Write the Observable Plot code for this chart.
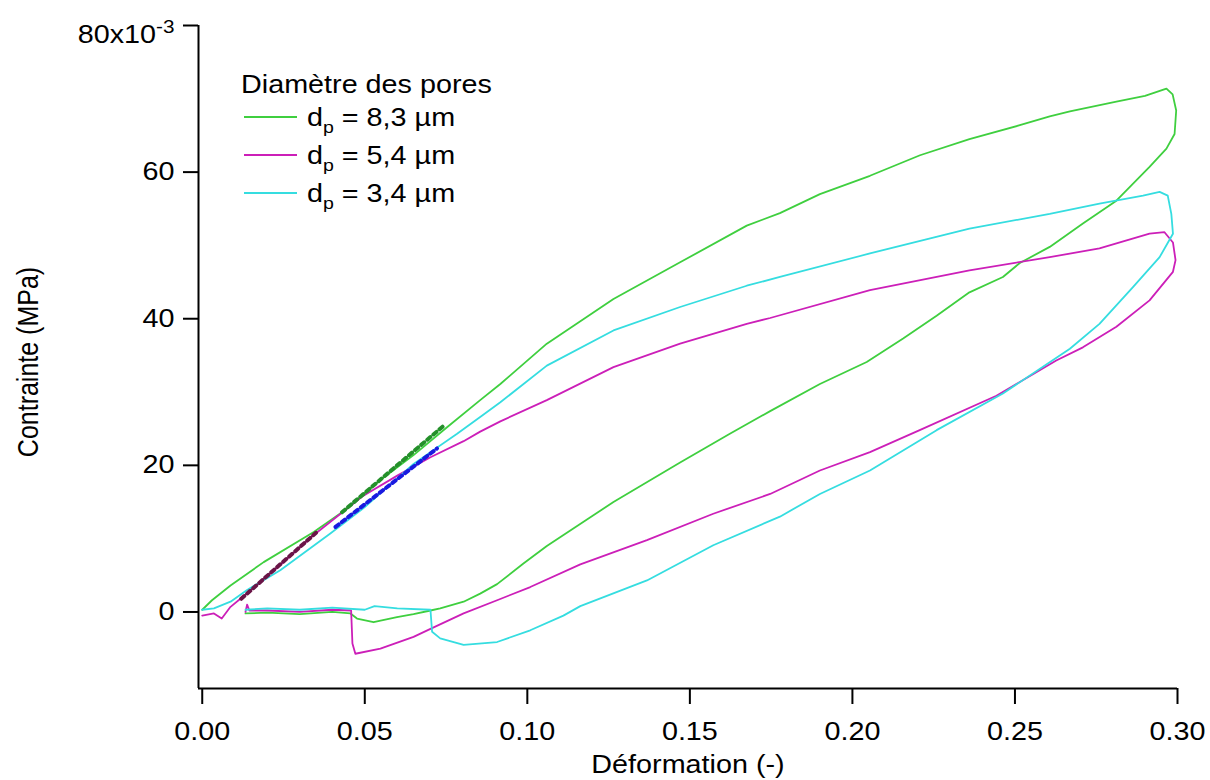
<!DOCTYPE html>
<html><head><meta charset="utf-8">
<script src="https://cdn.jsdelivr.net/npm/d3@7"></script>
<script src="https://cdn.jsdelivr.net/npm/@observablehq/plot@0.6"></script>
<style>body{margin:0;background:#fff}#chart{width:1210px;height:780px}</style>
</head><body><div id="chart"></div>
<script>
const seriesLabels = ["8,3 µm", "5,4 µm", "3,4 µm"];
const seriesColors = ["#3fcf3f", "#cc1fb8", "#35dde0"];

const greenStrain = [0.000,0.003,0.0087,0.0189,0.0343,0.0446,0.0548,0.065,0.0753,0.0855,
  0.0917,0.106,0.1265,0.147,0.1675,0.1777,0.19,0.2054,0.2208,0.236,
  0.2515,0.2607,0.2669,0.2812,0.2900,0.2966,
  0.2985,0.2996,0.2991,0.2966,0.2914,0.2812,0.2709,0.2607,0.2515,0.2463,
  0.236,0.2259,0.2156,0.2044,0.19,0.1747,0.1623,0.147,0.1265,0.106,
  0.0988,0.0907,0.0855,0.0804,0.0732,0.0702,0.0650,0.0599,0.0527,0.0476,
  0.0456,0.040,0.030,0.020,0.0133];
const greenStress = [0.3,1.6,3.6,6.8,10.9,14.1,18.0,21.4,25.2,28.9,
  31.1,36.6,42.7,47.7,52.7,54.4,57.0,59.5,62.3,64.5,
  66.4,67.6,68.3,69.6,70.4,71.4,
  70.6,68.4,65.2,63.2,60.7,56.1,53.0,49.8,47.6,45.7,
  43.6,40.4,37.3,34.1,31.1,27.4,24.3,20.4,15.0,9.0,
  6.6,3.8,2.5,1.4,0.5,0.2,-0.3,-0.7,-1.4,-0.9,
  -0.2,0.0,-0.3,-0.1,-0.2];

const magentaStrain = [0.000,0.0036,0.006,0.0087,0.0123,0.024,0.0343,0.0497,0.060,0.0702,
  0.0804,0.0855,0.0917,0.106,0.1265,0.147,0.1675,0.1747,0.2054,0.236,
  0.2607,0.276,0.2914,0.296,
  0.2986,0.2994,0.2986,0.2914,0.2812,0.2709,
  0.2627,0.2443,0.2207,0.2054,0.190,0.1747,0.1572,0.1368,0.1163,0.1009,
  0.0907,0.0804,0.0702,0.065,0.0548,0.0471,0.0462,0.0458,0.040,0.030,
  0.020,0.0145,0.0138,0.0133];
const magentaStress = [-0.5,-0.2,-0.9,0.7,2.0,6.4,10.5,15.9,18.6,21.1,
  23.3,24.6,26.0,28.9,33.4,36.6,39.3,40.1,43.9,46.6,
  48.4,49.6,51.6,51.8,
  50.4,48.0,46.4,42.5,38.9,36.1,
  34.3,29.5,24.8,21.8,19.3,16.1,13.4,9.8,6.5,3.4,
  1.6,-0.2,-2.3,-3.4,-5.0,-5.7,-4.3,0.2,0.3,0.0,
  0.2,0.2,1.0,0.0];

const cyanStrain = [0.000,0.0036,0.0087,0.0138,0.024,0.0394,0.050,0.065,0.0784,0.0855,
  0.0917,0.106,0.1265,0.147,0.1675,0.1777,0.2054,0.236,0.2607,0.276,
  0.2894,0.2945,
  0.297,0.2981,0.2986,0.2945,0.2863,0.276,0.2669,0.2463,
  0.2259,0.2054,0.190,0.1777,0.1572,0.1368,0.1163,0.1111,0.1009,0.0907,
  0.0804,0.0732,0.0707,0.0702,0.060,0.053,0.050,0.040,0.030,0.020,
  0.0133];
const cyanStress = [0.3,0.5,1.4,3.0,5.7,10.7,14.3,20.2,24.3,26.6,
  28.6,33.6,38.4,41.6,44.5,45.7,48.9,52.3,54.3,55.7,
  56.8,57.3,
  56.8,54.3,51.6,48.4,44.3,39.3,35.9,29.8,
  24.8,19.3,16.1,13.0,9.1,4.3,0.8,-0.5,-2.5,-4.1,
  -4.5,-3.6,-2.7,0.3,0.5,0.8,0.3,0.6,0.3,0.5,
  0.3];

// linear fits (dashed) on the initial loading slopes
const fitNames = ["fit 5,4", "fit 8,3", "fit 3,4"];
const fitColors = ["#6a1447", "#24902a", "#1a1ae0"];
const fitStrain = [[0.012, 0.035], [0.043, 0.074], [0.041, 0.0722]];
const fitStress = [[1.8, 10.8], [13.6, 25.3], [11.6, 22.3]];

const xTicks = [0, 0.05, 0.10, 0.15, 0.20, 0.25, 0.30];
const yTicks = [0, 20, 40, 60, 80];
const xDomain = [-0.00115, 0.30];
const yDomain = [-10.44, 80];

// ---- build rows ----
function rowsOf(sx, sy) { return sx.map((x, i) => ({strain: x, stress: sy[i]})); }
const curves = [rowsOf(greenStrain, greenStress), rowsOf(magentaStrain, magentaStress), rowsOf(cyanStrain, cyanStress)];
const fits = fitStrain.map((s, k) => rowsOf(s, fitStress[k]));

const FONT = "'Liberation Sans', Arial, sans-serif";
const plot = Plot.plot({
  width: 1210, height: 780,
  marginLeft: 198, marginRight: 33, marginTop: 25, marginBottom: 92,
  style: {fontFamily: FONT, fontSize: "25px", background: "#fff", color: "#000", overflow: "visible"},
  x: {domain: xDomain},
  y: {domain: yDomain},
  marks: [
    ...curves.map((c, k) => Plot.line(c, {x: "strain", y: "stress", stroke: seriesColors[k], strokeWidth: 1.8})),
    ...fits.map((f, k) => Plot.line(f, {x: "strain", y: "stress", stroke: fitColors[k], strokeWidth: 4, strokeDasharray: "4,4"})),
    Plot.ruleX([xDomain[0]], {y1: yDomain[0], y2: yDomain[1], stroke: "#000", strokeWidth: 2}),
    Plot.ruleY([yDomain[0]], {x1: xDomain[0], x2: xDomain[1], stroke: "#000", strokeWidth: 2}),
    Plot.axisX({ticks: xTicks, tickSize: 16, tickPadding: 18, strokeWidth: 2, tickFormat: d => d.toFixed(2), label: null}),
    Plot.axisY({ticks: yTicks, tickSize: 15, tickPadding: 9, strokeWidth: 2, tickFormat: d => d === 80 ? "80x10" : String(d), label: null})
  ]
});
document.getElementById("chart").appendChild(plot);

const svg = d3.select(plot);
// horizontally widen tick labels a bit (reference type is wide)
svg.selectAll('g[aria-label="x-axis tick label"] text, g[aria-label="y-axis tick label"] text').each(function() {
  const t = this.getAttribute("transform");
  if (t) this.setAttribute("transform", t + " scale(1.15,1)");
  if (this.textContent === "80x10") {
    this.setAttribute("transform", (this.getAttribute("transform") || "") + " translate(0,9)");
    d3.select(this).append("tspan").attr("dy", -10).attr("font-size", 18).text("-3");
  }
});

// axis titles
svg.append("text").attr("transform", "translate(688,773) scale(1.15,1)")
  .attr("text-anchor", "middle").attr("font-size", 25).text("Déformation (-)");
svg.append("text").attr("transform", "translate(38,362) rotate(-90) scale(1,1.15)")
  .attr("text-anchor", "middle").attr("font-size", 25).text("Contrainte (MPa)");

// legend
const lg = svg.append("g").attr("font-size", 25).attr("text-anchor", "start");
lg.append("text").attr("text-anchor", "start").attr("transform", "translate(241,93) scale(1.15,1)").text("Diamètre des pores");
seriesLabels.forEach((lab, k) => {
  const y = 117 + k * 38;
  lg.append("line").attr("x1", 244).attr("x2", 297).attr("y1", y).attr("y2", y)
    .attr("stroke", seriesColors[k]).attr("stroke-width", 1.8);
  const t = lg.append("text").attr("text-anchor", "start").attr("transform", `translate(307,${y + 9}) scale(1.15,1)`);
  t.append("tspan").text("d");
  t.append("tspan").attr("dy", 7).attr("font-size", 17).text("p");
  t.append("tspan").attr("dy", -7).text(" = " + lab);
});
</script>
</body></html>
